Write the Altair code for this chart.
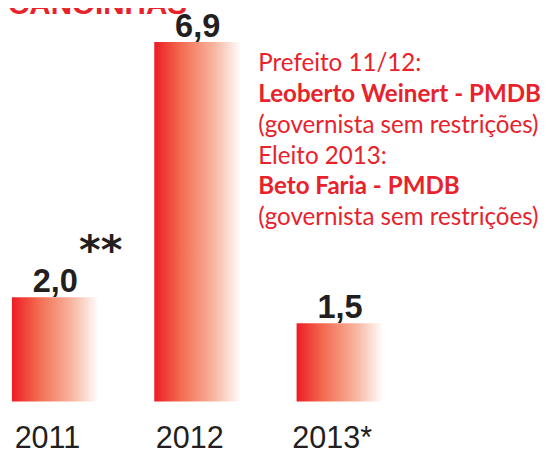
import altair as alt
import pandas as pd

years = ["2011", "2012", "2013*"]
values = [2.0, 6.9, 1.5]
value_labels = ["2,0", "6,9", "1,5"]
notes = ["**", "", ""]

title_text = ["CANOINHAS"]

ann_lines = [
    "Prefeito 11/12:",
    "Leoberto Weinert - PMDB",
    "(governista sem restrições)",
    "Eleito 2013:",
    "Beto Faria - PMDB",
    "(governista sem restrições)",
]
ann_bold = [False, True, False, False, True, False]

df = pd.DataFrame({"year": years, "value": values, "label": value_labels, "note": notes})
ann = pd.DataFrame({"line": list(range(len(ann_lines))), "text": ann_lines, "bold": ann_bold})
tdf = pd.DataFrame({"t": title_text})

RED = "#E8222B"
DARK = "#231F20"

xenc = alt.X(
    "year:N",
    sort=years,
    scale=alt.Scale(range=[4, 381], paddingInner=0.39, paddingOuter=0),
    axis=alt.Axis(
        title=None, ticks=False, domain=False, labelAngle=0,
        labelFont="Liberation Sans", labelFontSize=31, labelColor=DARK,
        labelPadding=23, labelOffset=-8,
    ),
)
yenc = alt.Y("value:Q", scale=alt.Scale(domain=[0, 7.49], nice=False, zero=True), axis=None)

grad = alt.Gradient(
    gradient="linear",
    stops=[
        alt.GradientStop(color="#ED1C24", offset=0),
        alt.GradientStop(color="#F26A4F", offset=0.3),
        alt.GradientStop(color="#F8B8A2", offset=0.7),
        alt.GradientStop(color="#FFFFFF", offset=1),
    ],
    x1=0, x2=1, y1=0, y2=0,
)

base = alt.Chart(df)
bars = base.mark_bar(color=grad).encode(x=xenc, y=yenc)
labels = base.mark_text(
    baseline="alphabetic", dy=-5,
    font="Liberation Sans", fontSize=33, fontWeight="bold", color=DARK,
).encode(x=xenc, y=yenc, text="label:N")
stars = base.mark_text(
    align="left", baseline="alphabetic", dx=24, dy=-34,
    font="DejaVu Sans", fontSize=42, fontWeight="bold", color=DARK,
).encode(x=xenc, y=yenc, text="note:N")

ayenc = alt.Y("line:Q", scale=alt.Scale(domain=[0, 5], range=[61, 217]), axis=None)
ann_normal = alt.Chart(ann).transform_filter("!datum.bold").mark_text(
    align="left", baseline="alphabetic", font="Lato", fontSize=24.5, color=RED,
).encode(x=alt.value(254), y=ayenc, text="text:N")
ann_boldm = alt.Chart(ann).transform_filter("datum.bold").mark_text(
    align="left", baseline="alphabetic", font="Lato", fontSize=24.5, fontWeight="bold", color=RED,
).encode(x=alt.value(254), y=ayenc, text="text:N")

title = alt.Chart(tdf).mark_text(
    align="left", baseline="alphabetic", font="Liberation Sans", fontSize=30,
    fontWeight="bold", color=RED,
).encode(x=alt.value(0), y=alt.value(3), text="t:N")

chart = (
    alt.layer(bars, labels, stars, ann_normal, ann_boldm, title)
    .resolve_scale(y="independent")
    .properties(
        width=545, height=396,
        autosize=alt.AutoSizeParams(type="none"),
        padding={"left": 0, "top": 0, "right": 0, "bottom": 49},
    )
    .configure_view(strokeWidth=0)
)

chart.save("out.html", embed_options={"renderer": "svg", "actions": False})
